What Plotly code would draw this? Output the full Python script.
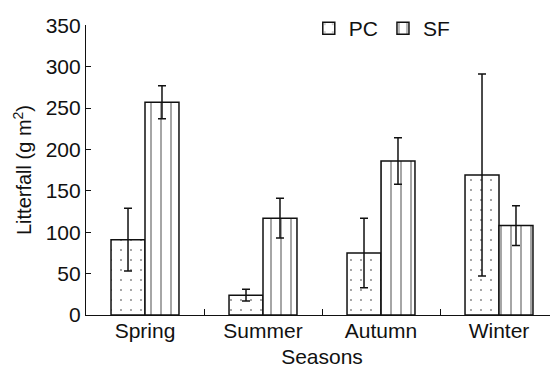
import plotly.graph_objects as go

seasons = ["Spring", "Summer", "Autumn", "Winter"]
pc_values = [91, 24, 75, 169]
pc_err = [38, 7, 42, 122]
sf_values = [257, 117, 186, 108]
sf_err = [20, 24, 28, 24]
y_ticks = [0, 50, 100, 150, 200, 250, 300, 350]

FS = 21
font = dict(family="Liberation Sans, Arial, sans-serif", size=FS, color="#111")

fig = go.Figure()
fig.add_trace(go.Bar(
    x=seasons, y=pc_values, name="PC",
    marker=dict(color="white", line=dict(color="#111", width=1.5),
                pattern=dict(shape=".", size=10, solidity=0.03, fgcolor="#111", bgcolor="white")),
    error_y=dict(type="data", array=pc_err, visible=True, color="#111", thickness=1.5, width=4),
))
fig.add_trace(go.Bar(
    x=seasons, y=sf_values, name="SF",
    marker=dict(color="white", line=dict(color="#111", width=1.5),
                pattern=dict(shape="|", size=10, solidity=0.15, fgcolor="#111", bgcolor="white")),
    error_y=dict(type="data", array=sf_err, visible=True, color="#111", thickness=1.5, width=4),
))

# page body adds an 8px offset, so the figure is drawn 8px smaller
fig.update_layout(
    width=550, height=365,
    margin=dict(l=78, r=0, t=11, b=58),
    paper_bgcolor="white", plot_bgcolor="white",
    font=font,
    barmode="group", bargap=0.424, bargroupgap=0,
    showlegend=True,
    legend=dict(orientation="h", x=0.472, y=1.06, xanchor="left", yanchor="top",
                font=dict(size=FS), bgcolor="rgba(0,0,0,0)", itemwidth=30,
                traceorder="normal"),
    xaxis=dict(
        range=[-0.5, 3.5], showline=True, linecolor="#111", linewidth=1.2,
        ticks="inside", tickson="boundaries", ticklen=6, tickcolor="#111",
        showgrid=False, zeroline=False, automargin=False, ticklabelstandoff=-3,
        title=dict(text="Seasons", font=dict(size=FS), standoff=8),
        tickfont=dict(size=FS),
    ),
    yaxis=dict(
        range=[0, 350.3], tickvals=y_ticks, showline=True, linecolor="#111", linewidth=1.2,
        ticks="inside", ticklen=5, tickcolor="#111", showgrid=False, zeroline=False,
        automargin=False,
        title=dict(text="Litterfall (g m<sup>2</sup>)", font=dict(size=20), standoff=8),
        tickfont=dict(size=FS),
    ),
)

fig.write_html("out.html")
